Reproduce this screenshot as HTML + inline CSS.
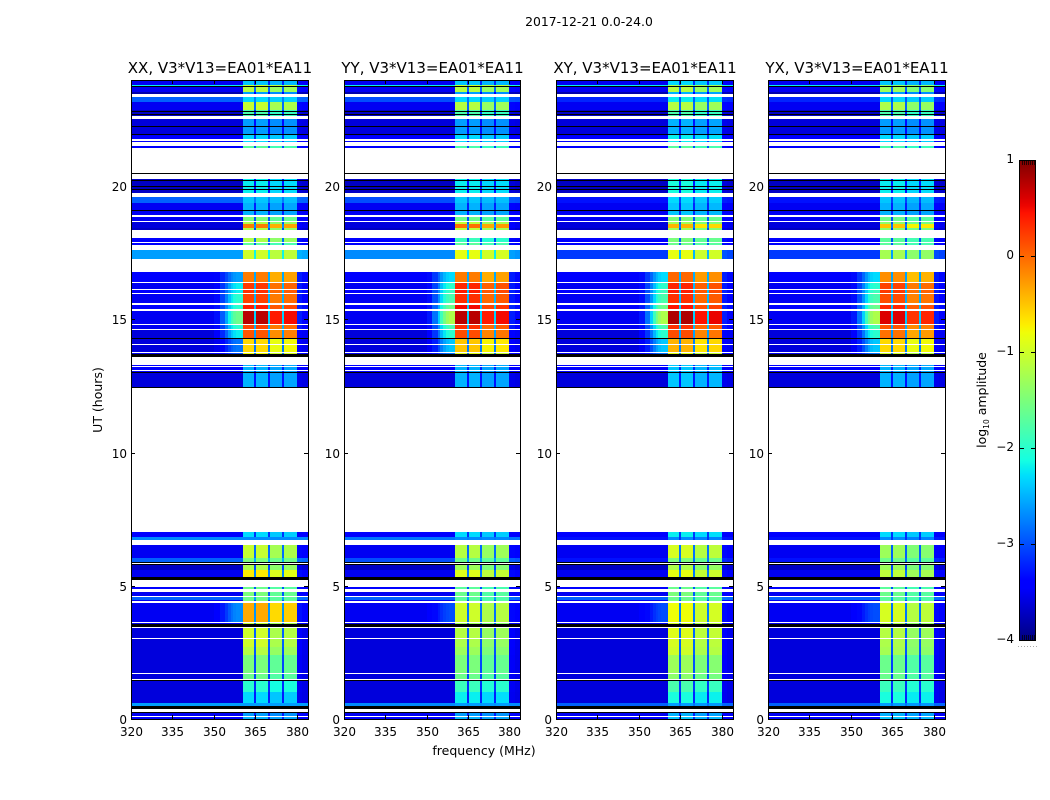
<!DOCTYPE html>
<html lang="en">
<head>
<meta charset="utf-8">
<title>2017-12-21 waterfall</title>
<style>
html,body{margin:0;padding:0;background:#fff;width:1050px;height:800px;overflow:hidden}
svg{display:block}
text{font-family:"DejaVu Sans","Liberation Sans",sans-serif;fill:#000}
</style>
</head>
<body>
<svg id="chart" width="1050" height="800" viewBox="0 0 1050 800" xmlns="http://www.w3.org/2000/svg">
  <defs>
    <linearGradient id="jet-gradient" x1="0" y1="1" x2="0" y2="0"></linearGradient>
  </defs>
  <text x="589" y="26" font-size="12.4" text-anchor="middle">2017-12-21 0.0-24.0</text>
  <text x="484" y="755" font-size="12.5" text-anchor="middle">frequency (MHz)</text>
  <text transform="translate(102,400) rotate(-90)" font-size="12.5" text-anchor="middle">UT (hours)</text>
  <text transform="translate(986,400) rotate(-90)" font-size="12.5" text-anchor="middle">log<tspan font-size="7.5" dy="3">10</tspan><tspan dy="-3"> amplitude</tspan></text>
</svg>
<script>
// ---- categories and tick labels ----
var panelTitles = ["XX, V3*V13=EA01*EA11", "YY, V3*V13=EA01*EA11", "XY, V3*V13=EA01*EA11", "YX, V3*V13=EA01*EA11"];
var xTicks = [320, 335, 350, 365, 380];
var yTicks = [0, 5, 10, 15, 20];
var colorbarTicks = [1, 0, -1, -2, -3, -4];

// ---- frequency channels (MHz) ----
var freqEdges = [320, 350, 352, 354, 355, 356, 357, 358, 359, 360.5, 364.6, 365.3, 369.6, 370.3, 374.6, 375.3, 380, 382, 384];
var bandGain = [0, 0, 0, 0, 0, 0, 0, 0, 0, 1, 0.27, 1, 0.27, 0.92, 0.27, 0.94, 0.06, 0.03];
var rampWeight = [0, 0.1, 0.3, 0.5, 0.7, 0.85, 0.95, 1, 1, 0, 0, 0, 0, 0, 0, 0, 0, 0];

// ---- time rows (UT hours), lower edges plus final top edge ----
var rowEdgesUT = [
  0, 0.113, 0.488, 0.6, 1.013, 1.5, 1.725, 2.4, 2.7, 3.038,
  3.563, 3.638, 4.425, 4.463, 4.613, 4.875, 5.325, 5.588, 5.888, 6.038,
  6.713, 6.825, 12.45, 13.013, 13.688, 13.763, 14.288, 14.625, 14.813, 15.375,
  15.6, 15.975, 16.125, 16.388, 17.25, 17.775, 17.888, 18.338, 18.413, 18.563,
  18.675, 18.9, 19.35, 19.725, 20.25, 21.413, 21.638, 21.938, 22.613, 22.838,
  23.138, 23.438, 23.513, 23.738, 23.775, 23.925
];

// ---- log10 amplitude outside the band, one array per correlation ----
var bgXX = [
  -3.45,-3.5,-2.6,-3.6,-3.6,-3.6,-3.6,-3.6,-3.6,-3.6,
  -3.5,-3.5,-3.5,-2.9,-3.5,-3.45,-3.5,-3.7,-2.9,-3.5,
  -2.7,-3.45,-3.6,-3.45,-3.5,-3.6,-3.6,-3.5,-3.5,-3.45,
  -3.5,-3.45,-3.5,-3.45,-2.6,-3.45,-3.45,-3.7,-3.6,-3.6,
  -3.5,-3.5,-2.9,-3.7,-3.45,-3.45,-3.45,-3.6,-3.7,-3.5,
  -2.9,-3.8,-3.5,-2.2,-3.5
];
var bgYY = [
  -3.45,-3.5,-2.7,-3.6,-3.6,-3.6,-3.6,-3.6,-3.6,-3.6,
  -3.5,-3.5,-3.5,-2.9,-3.5,-3.45,-3.5,-3.7,-3.0,-3.5,
  -2.8,-3.45,-3.6,-3.45,-3.5,-3.6,-3.6,-3.5,-3.5,-3.45,
  -3.5,-3.45,-3.5,-3.45,-2.7,-3.45,-3.45,-3.7,-3.6,-3.6,
  -3.5,-3.5,-3.0,-3.7,-3.45,-3.45,-3.45,-3.6,-3.7,-3.5,
  -3.0,-3.8,-3.5,-2.2,-3.5
];
var bgXY = [
  -3.45,-3.5,-2.9,-3.6,-3.6,-3.6,-3.6,-3.6,-3.6,-3.6,
  -3.5,-3.5,-3.5,-2.9,-3.5,-3.45,-3.5,-3.7,-3.3,-3.5,
  -3.3,-3.45,-3.6,-3.45,-3.5,-3.6,-3.6,-3.5,-3.5,-3.45,
  -3.5,-3.45,-3.5,-3.45,-3.1,-3.45,-3.45,-3.7,-3.6,-3.6,
  -3.5,-3.5,-3.3,-3.7,-3.45,-3.45,-3.45,-3.6,-3.7,-3.5,
  -3.2,-3.8,-3.5,-2.2,-3.5
];
var bgYX = [
  -3.45,-3.5,-2.9,-3.6,-3.6,-3.6,-3.6,-3.6,-3.6,-3.6,
  -3.5,-3.5,-3.5,-2.9,-3.5,-3.45,-3.5,-3.7,-3.3,-3.5,
  -3.3,-3.45,-3.6,-3.45,-3.5,-3.6,-3.6,-3.5,-3.5,-3.45,
  -3.5,-3.45,-3.5,-3.45,-3.1,-3.45,-3.45,-3.7,-3.6,-3.6,
  -3.5,-3.5,-3.3,-3.7,-3.45,-3.45,-3.45,-3.6,-3.7,-3.5,
  -3.2,-3.8,-3.5,-2.2,-3.5
];

// ---- log10 amplitude inside the band, one array per correlation ----
var bandXX = [
  -2.5,-2.6,-2.6,-2.3,-2.0,-1.6,-1.5,-1.15,-1.0,-1.0,
  -1.1,-0.35,-1.5,-1.6,-1.5,-1.6,-0.7,-1.2,-1.5,-1.05,
  -2.7,-2.3,-2.5,-2.5,-0.8,-0.6,0.1,0.2,0.75,0.4,
  0.2,0.3,0.25,-0.1,-1.0,-1.7,-1.2,-1.2,-0.1,-1.2,
  -1.5,-2.5,-2.4,-2.2,-1.7,-1.7,-2.3,-2.6,-1.8,-1.05,
  -2.3,-2.6,-1.15,-1.0,-2.4
];
var bandYY = [
  -2.5,-2.6,-2.6,-2.2,-1.9,-1.6,-1.5,-1.3,-1.2,-1.15,
  -1.3,-1.0,-1.6,-1.7,-1.6,-1.7,-0.9,-1.3,-1.6,-1.15,
  -2.7,-2.3,-2.5,-2.5,-0.9,-0.5,0.15,0.3,0.75,0.5,
  0.3,0.4,0.35,-0.1,-0.85,-1.7,-1.9,-1.1,-0.05,-1.1,
  -1.6,-2.5,-2.4,-2.2,-1.8,-1.8,-2.3,-2.6,-1.8,-1.15,
  -2.3,-2.6,-1.15,-1.0,-2.4
];
var bandXY = [
  -2.4,-2.5,-2.6,-2.1,-1.8,-1.4,-1.3,-1.0,-0.95,-0.9,
  -1.0,-0.8,-1.5,-1.6,-1.5,-1.6,-0.85,-1.2,-1.5,-0.95,
  -2.7,-2.2,-2.4,-2.4,-0.9,-0.4,0.15,0.3,0.8,0.45,
  0.3,0.4,0.35,0.0,-0.85,-1.6,-1.5,-1.3,-0.4,-1.3,
  -1.5,-2.4,-2.3,-2.1,-1.7,-1.7,-2.2,-2.5,-1.8,-1.15,
  -2.2,-2.5,-1.15,-1.2,-2.3
];
var bandYX = [
  -2.4,-2.5,-2.6,-2.1,-1.9,-1.6,-1.6,-1.25,-1.2,-1.15,
  -1.2,-0.95,-1.6,-1.7,-1.6,-1.7,-1.1,-1.3,-1.6,-1.3,
  -2.7,-2.3,-2.5,-2.5,-1.0,-0.6,-0.05,0.1,0.6,0.35,
  0.15,0.25,0.2,-0.2,-1.25,-1.7,-1.7,-1.4,-0.5,-1.4,
  -1.6,-2.5,-2.4,-2.2,-1.8,-1.8,-2.3,-2.6,-1.8,-1.2,
  -2.3,-2.6,-1.3,-1.3,-2.4
];

// ---- leakage level next to the band edge (null = none) ----
var rampXX = [
  null,null,null,null,null,null,null,null,null,null,
  null,-2.7,null,null,null,null,null,null,null,null,
  null,null,null,null,-3.0,-2.8,-2.2,-2.0,-1.6,-2.0,
  -2.0,-2.2,-2.2,-2.6,null,null,null,null,null,null,
  null,null,null,null,null,null,null,null,null,null,
  null,null,null,null,null
];
var rampCross = [
  null,null,null,null,null,null,null,null,null,null,
  null,-3.0,null,null,null,null,null,null,null,null,
  null,null,null,null,-2.8,-2.4,-2.0,-1.8,-1.2,-1.6,
  -1.8,-1.9,-2.0,-2.3,null,null,null,null,null,null,
  null,null,null,null,null,null,null,null,null,null,
  null,null,null,null,null
];

// ---- flagged (no data) and zero-amplitude time intervals, UT hours ----
var flaggedStart = [0.075,0.263,1.463,1.688,3,3.413,3.6,4.35,4.575,4.763,4.95,5.813,6.525,7.013,13.05,13.2,13.275,13.725,14.025,14.588,14.775,15.3,15.525,15.938,16.088,16.35,16.763,17.588,17.85,18.038,18.638,18.825,19.575,20.25,20.475,21.488,21.675,22.5,23.325];
var flaggedEnd = [0.113,0.375,1.5,1.725,3.038,3.45,3.638,4.425,4.613,4.875,5.213,5.85,6.713,12.413,13.088,13.238,13.575,13.763,14.063,14.625,14.813,15.375,15.6,15.975,16.125,16.388,17.25,17.775,17.888,18.338,18.675,18.9,19.725,20.438,21.413,21.638,21.75,22.613,23.438];
var zeroStart = [0.225,0.375,1.425,3.45,5.213,5.775,5.85,12.413,12.975,13.575,14.25,19.05,19.838,19.95,20.175,20.438,21.9,22.2,22.65,22.763,23.7];
var zeroEnd = [0.263,0.488,1.463,3.563,5.325,5.813,5.888,12.45,13.013,13.688,14.288,19.088,19.875,19.988,20.213,20.475,21.938,22.238,22.688,22.8,23.738];

var bgByPanel = [bgXX, bgYY, bgXY, bgYX];
var bandByPanel = [bandXX, bandYY, bandXY, bandYX];
var rampByPanel = [rampXX, rampCross, rampCross, rampCross];

// ---- layout and axis functions ----
var panelLeft = [131, 344, 556, 768];
var panelWidths = [177, 176, 177, 177];
var axisBottom = 719;
var axisTop = 80;
var freqMin = 320, freqMax = 384, utMax = 23.98;
var levelMin = -4, levelMax = 1;
var barLeft = 1019, barWidth = 16, barTop = 160, barBottom = 640;
var SVGNS = "http://www.w3.org/2000/svg";
var svg = document.getElementById("chart");

function xScale(panel, mhz) { return panelLeft[panel] + (mhz - freqMin) / (freqMax - freqMin) * panelWidths[panel]; }
function yScale(ut) { return axisBottom - ut / utMax * (axisBottom - axisTop); }
function levelScale(v) { return barBottom - (v - levelMin) / (levelMax - levelMin) * (barBottom - barTop); }
function make(tag, attrs, parent) {
  var el = document.createElementNS(SVGNS, tag);
  for (var k in attrs) el.setAttribute(k, attrs[k]);
  parent.appendChild(el);
  return el;
}
function lerpCurve(t, pts) {
  for (var i = 1; i < pts.length; i++) {
    if (t <= pts[i][0]) {
      var a = pts[i - 1], b = pts[i];
      return a[1] + (b[1] - a[1]) * (t - a[0]) / (b[0] - a[0]);
    }
  }
  return pts[pts.length - 1][1];
}
function jet(t) {
  t = Math.max(0, Math.min(1, t));
  var r = lerpCurve(t, [[0, 0], [0.35, 0], [0.66, 1], [0.89, 1], [1, 0.5]]);
  var g = lerpCurve(t, [[0, 0], [0.125, 0], [0.375, 1], [0.64, 1], [0.91, 0], [1, 0]]);
  var b = lerpCurve(t, [[0, 0.5], [0.11, 1], [0.34, 1], [0.65, 0], [1, 0]]);
  return "rgb(" + Math.round(r * 255) + "," + Math.round(g * 255) + "," + Math.round(b * 255) + ")";
}
function levelColor(v) { return jet((v - levelMin) / (levelMax - levelMin)); }
function minusLabel(v) { return v < 0 ? "\u2212" + Math.abs(v) : String(v); }

// ---- panels ----
panelTitles.forEach(function (title, p) {
  var g = make("g", {}, svg);
  
  
  var left = panelLeft[p], panelWidth = panelWidths[p], right = left + panelWidth;

  var bgs = bgByPanel[p], bands = bandByPanel[p], ramps = rampByPanel[p];
  for (var r = 0; r < rowEdgesUT.length - 1; r++) {
    var y1 = Math.round(yScale(rowEdgesUT[r + 1]));
    var y0 = Math.round(yScale(rowEdgesUT[r]));
    for (var c = 0; c < freqEdges.length - 1; c++) {
      var level = bgs[r] + (bands[r] - bgs[r]) * bandGain[c];
      if (ramps[r] !== null && rampWeight[c] > 0) level = bgs[r] + (ramps[r] - bgs[r]) * rampWeight[c];
      var x0 = Math.round(xScale(p, freqEdges[c]));
      var x1 = Math.round(xScale(p, freqEdges[c + 1]));
      var cell = make("rect", { x: x0, y: y1, width: x1 - x0, height: y0 - y1, fill: levelColor(level), "shape-rendering": "crispEdges" }, g);
      
      
    }
  }
  flaggedStart.forEach(function (s, i) {
    var top = Math.round(yScale(flaggedEnd[i])), bot = Math.round(yScale(s));
    var band = make("rect", { x: left, y: top, width: panelWidth, height: bot - top, fill: "#fff", "shape-rendering": "crispEdges" }, g);
    
    
  });
  zeroStart.forEach(function (s, i) {
    var top = Math.round(yScale(zeroEnd[i])), bot = Math.round(yScale(s));
    var band = make("rect", { x: left, y: top, width: panelWidth, height: bot - top, fill: "#000", "shape-rendering": "crispEdges" }, g);
    
    
  });

  var frame = make("rect", { x: left + 0.5, y: axisTop + 0.5, width: panelWidth, height: axisBottom - axisTop, fill: "none", stroke: "#000", "stroke-width": 1, "shape-rendering": "crispEdges" }, g);
  
  

  var head = make("text", { x: left + panelWidth / 2 + 0.5, y: 73, "font-size": 15, "text-anchor": "middle" }, g);
  head.textContent = title;
  
  

  xTicks.forEach(function (t) {
    var x = Math.round(xScale(p, t)) + 0.5;
    var tickA = make("line", { x1: x, x2: x, y1: axisBottom, y2: axisBottom - 4, stroke: "#000", "shape-rendering": "crispEdges" }, g);
    
    
    var tickB = make("line", { x1: x, x2: x, y1: axisTop, y2: axisTop + 4, stroke: "#000", "shape-rendering": "crispEdges" }, g);
    
    
    var lab = make("text", { x: x, y: 736, "font-size": 12, "text-anchor": "middle" }, g);
    lab.textContent = String(t);
    
    
  });
  yTicks.forEach(function (t) {
    var y = Math.round(yScale(t)) + 0.5;
    var tickA = make("line", { x1: left, x2: left + 4, y1: y, y2: y, stroke: "#000", "shape-rendering": "crispEdges" }, g);
    
    
    var tickB = make("line", { x1: right, x2: right - 4, y1: y, y2: y, stroke: "#000", "shape-rendering": "crispEdges" }, g);
    
    
    var lab = make("text", { x: left - 4, y: y + 4.5, "font-size": 12, "text-anchor": "end" }, g);
    lab.textContent = String(t);
    
    
  });
});

// ---- colorbar ----
var gradient = document.getElementById("jet-gradient");
for (var s = 0; s <= 64; s++) {
  make("stop", { offset: (s / 64 * 100) + "%", "stop-color": jet(s / 64) }, gradient);
}
var barGroup = make("g", {}, svg);


var barFill = make("rect", { x: barLeft + 0.5, y: barTop + 0.5, width: barWidth, height: barBottom - barTop, fill: "url(#jet-gradient)", stroke: "#000", "shape-rendering": "crispEdges" }, barGroup);


colorbarTicks.forEach(function (v) {
  var y = Math.round(levelScale(v)) + 0.5;
  var l = make("line", { x1: barLeft, x2: barLeft + 5, y1: y, y2: y, stroke: "#000", "shape-rendering": "crispEdges" }, barGroup);
  
  
  var r = make("line", { x1: barLeft + barWidth - 4, x2: barLeft + barWidth, y1: y, y2: y, stroke: "#000", "shape-rendering": "crispEdges" }, barGroup);
  
  
  var lab = make("text", { x: barLeft - 5, y: y + 2.5, "font-size": 12, "text-anchor": "end" }, barGroup);
  lab.textContent = minusLabel(v);
  
  
});
[0, 1, 2, 3, 4, 5, 6].forEach(function (k) {
  var x = barLeft + 3.5 + k * 2;
  var topMinor = make("line", { x1: x, x2: x, y1: barTop, y2: barTop + 5, stroke: "#000", "stroke-width": 0.7 }, barGroup);
  
  
  var botMinor = make("line", { x1: x, x2: x, y1: barBottom, y2: barBottom - 5, stroke: "#000", "stroke-width": 0.7 }, barGroup);
  
  
  var dot = make("rect", { x: barLeft - 1 + k * 3, y: 646, width: 1, height: 1, fill: "#aaa" }, barGroup);
  
  
});
</script>
</body>
</html>
